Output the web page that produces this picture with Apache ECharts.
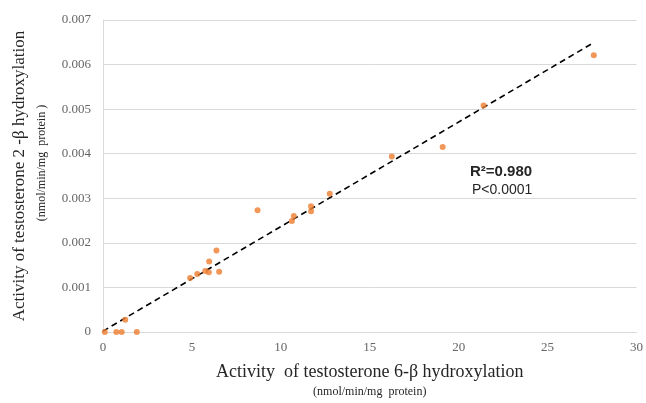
<!DOCTYPE html>
<html>
<head>
<meta charset="utf-8">
<script src="https://cdn.jsdelivr.net/npm/echarts@6/dist/echarts.min.js"></script>
<style>
  html, body { margin: 0; padding: 0; background: #fff; }
  #main { width: 646px; height: 403px; }
</style>
</head>
<body>
<div id="main"></div>
<script>
// 6-beta activity (x) vs 2-beta activity (y)
var xVals = [0.1, 0.75, 1.05, 1.9, 1.25, 4.9, 5.3, 5.75, 5.95, 5.97, 6.38, 6.53,
             8.69, 10.62, 10.73, 11.7, 11.7, 12.75, 16.24, 19.1, 21.4, 27.6];
var yVals = [0, 0, 0, 0, 0.000275, 0.00121, 0.0013, 0.00137, 0.00134, 0.00158, 0.00183, 0.00135,
             0.00273, 0.00249, 0.0026, 0.00282, 0.00271, 0.0031, 0.00394, 0.00415, 0.00508, 0.00621];
// regression line end points
var fitX = [0, 27.5];
var fitY = [0.00002, 0.00647];
var xTicks = [0, 5, 10, 15, 20, 25, 30];
var yTicks = [0, 0.001, 0.002, 0.003, 0.004, 0.005, 0.006, 0.007];

var points = xVals.map(function (x, i) { return [x, yVals[i]]; });
var fitLine = fitX.map(function (x, i) { return [x, fitY[i]]; });

var myChart = echarts.init(document.getElementById('main'));
var serif = '"Liberation Serif", "DejaVu Serif", serif';
var option = {
    animation: false,
    grid: {
        left: 103,
        right: 9,
        top: 20,
        bottom: 70
    },
    xAxis: {
        type: 'value',
        min: xTicks[0],
        max: xTicks[xTicks.length - 1],
        interval: 5,
        nameLocation: 'middle',
        nameGap: 29,
        name: '{a|Activity  of testosterone 6-β hydroxylation}\n{b|(nmol/min/mg  protein)}',
        nameTextStyle: {
            rich: {
                a: { fontFamily: serif, fontSize: 18, color: '#262626', lineHeight: 22, align: 'center' },
                b: { fontFamily: serif, fontSize: 12, color: '#262626', lineHeight: 18, align: 'center' }
            }
        },
        axisLine: { show: true, lineStyle: { color: '#d9d9d9', width: 1 } },
        axisTick: { show: false },
        axisLabel: { fontFamily: serif, fontSize: 13, color: '#666', margin: 9 },
        splitLine: { show: false }
    },
    yAxis: {
        type: 'value',
        min: yTicks[0],
        max: yTicks[yTicks.length - 1],
        interval: 0.001,
        nameLocation: 'middle',
        nameGap: 50,
        nameRotate: 90,
        name: '{a|Activity of testosterone 2 -β hydroxylation}\n{b|(nmol/min/mg  protein )}',
        nameTextStyle: {
            rich: {
                a: { fontFamily: serif, fontSize: 17, color: '#262626', lineHeight: 22, align: 'center' },
                b: { fontFamily: serif, fontSize: 12, color: '#262626', lineHeight: 22, align: 'center', padding: [0, 0, 0, 26] }
            }
        },
        axisLine: { show: true, lineStyle: { color: '#d9d9d9', width: 1 } },
        axisTick: { show: false },
        axisLabel: {
            fontFamily: serif, fontSize: 13, color: '#666', margin: 12,
            formatter: function (v) { return v === 0 ? '0' : v.toFixed(3); }
        },
        splitLine: { show: true, lineStyle: { color: '#d9d9d9', width: 1 } }
    },
    series: [
        {
            type: 'line',
            data: fitLine,
            symbol: 'none',
            silent: true,
            lineStyle: { color: '#000', width: 1.6, type: [6, 4] },
            z: 3
        },
        {
            type: 'scatter',
            data: points,
            symbol: 'circle',
            symbolSize: 6,
            itemStyle: { color: '#ED7D31' },
            z: 4
        }
    ],
    graphic: [
        {
            type: 'text',
            left: 470,
            top: 164,
            style: { text: 'R²=0.980', fontFamily: '"Liberation Sans", Arial, sans-serif', fontSize: 15, fontWeight: 'bold', fill: '#262626' }
        },
        {
            type: 'text',
            left: 472,
            top: 183,
            style: { text: 'P<0.0001', fontFamily: '"Liberation Sans", Arial, sans-serif', fontSize: 14, fill: '#262626' }
        }
    ]
};
myChart.setOption(option);
</script>
</body>
</html>
